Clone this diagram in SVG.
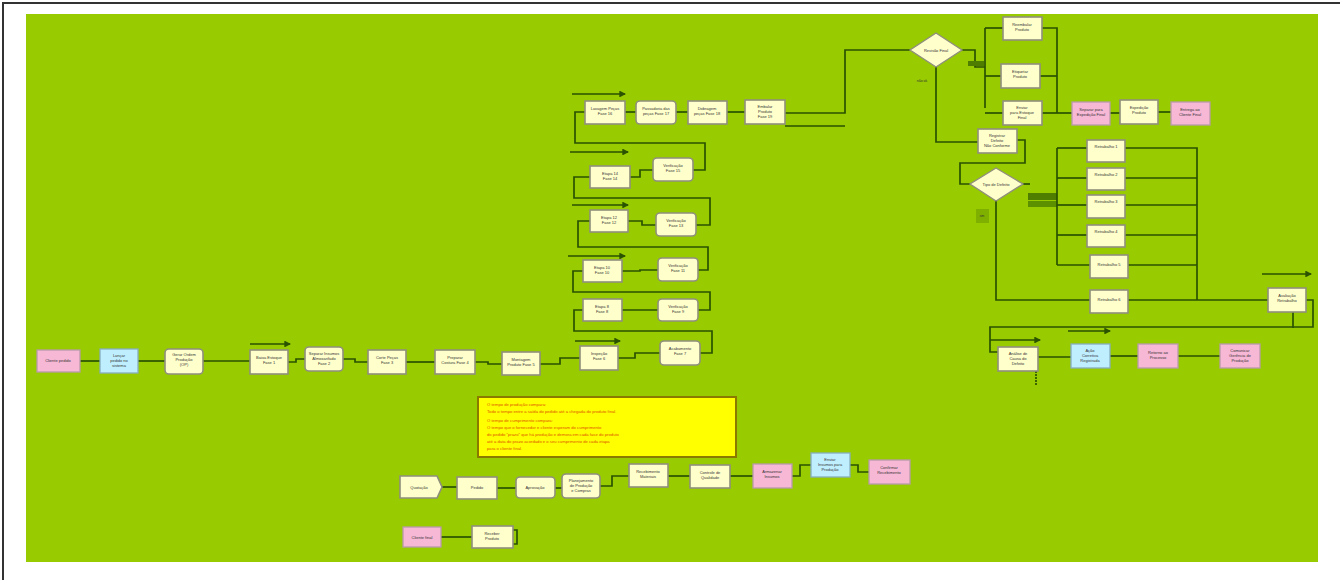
<svg xmlns="http://www.w3.org/2000/svg" width="1343" height="582" viewBox="0 0 1343 582">
<defs>
<style>
.bg{fill:#99cc00}
.n{fill:#ffffcc;stroke:#8f8f7c;stroke-width:1.6}
.p{fill:#f7b8d6;stroke:#b89aa8;stroke-width:1.3}
.b{fill:#bfeeff;stroke:#86aebd;stroke-width:1.3}
.d{fill:#ffffcc;stroke:#8f8f7c;stroke-width:1.4}
.t{font-family:"Liberation Sans",Arial,sans-serif;font-size:4px;fill:#333;text-anchor:middle}
.c path,.c line{fill:none;stroke:#2a5200;stroke-width:1.7}
.note{fill:#ffff00;stroke:#8a7a00;stroke-width:2}
.nt{font-family:"Liberation Sans",Arial,sans-serif;font-size:4.2px;fill:#e05000}
</style>
<marker id="ah" viewBox="0 0 6 6" refX="5" refY="3" markerWidth="4" markerHeight="4" orient="auto"><path d="M0,0L6,3L0,6z" fill="#2a5200"/></marker>
</defs>

<!-- page frame -->
<rect x="0" y="0" width="1343" height="582" fill="#ffffff"/>
<path d="M3,580V3H1340" fill="none" stroke="#333" stroke-width="2"/>
<rect class="bg" x="26" y="14" width="1292" height="548"/>

<!-- connectors -->
<g class="c" id="connectors">
  <!-- bottom-left chain -->
  <path d="M80,361H100"/>
  <path d="M138,361H165"/>
  <path d="M203,361H250"/>
  <path d="M288,362H296V359H305"/>
  <path d="M343,359H355V362H368"/>
  <path d="M406,362H435"/>
  <path d="M475,362H488V364H502"/>
  <path d="M540,364H560V358H580"/>
  <path d="M618,358H635V353H660"/>
  <line x1="250" y1="344" x2="290" y2="344" marker-end="url(#ah)"/>
  <line x1="575" y1="341" x2="620" y2="341" marker-end="url(#ah)"/>
  <!-- snake column -->
  <path d="M700,353H712V331H574V310H583"/>
  <path d="M622,310H640V310H658"/>
  <path d="M698,310H710V292H573V271H583"/>
  <path d="M622,271H640V270H658"/>
  <path d="M698,270H708V247H578V221H590"/>
  <path d="M628,221H642V225H656"/>
  <path d="M696,225H710V198H574V177H590"/>
  <path d="M630,177H640V170H653"/>
  <path d="M693,170H705V143H575V112H585"/>
  <line x1="572" y1="94" x2="625" y2="94" marker-end="url(#ah)"/>
  <line x1="572" y1="205" x2="628" y2="205" marker-end="url(#ah)"/>
  <line x1="568" y1="256" x2="625" y2="256" marker-end="url(#ah)"/>
  <line x1="570" y1="152" x2="628" y2="152" marker-end="url(#ah)"/>
  <path d="M625,112H636"/>
  <path d="M676,112H688"/>
  <path d="M727,112H745"/>
  <path d="M785,113H845V50H910"/>
  <path d="M785,126H845"/>
  <!-- decision 1 -->
  <path d="M962,50H975V67H985"/>
  <rect x="968" y="61" width="16" height="5" fill="#4e7d00" stroke="none"/>
  <path d="M985,28V108"/>
  <path d="M985,28H1003"/>
  <path d="M985,76H1001"/>
  <path d="M985,113H1003"/>
  <path d="M1042,28H1057V113"/>
  <path d="M1040,76H1057"/>
  <path d="M1042,113H1072"/>
  <path d="M1110,113H1120"/>
  <path d="M1158,112H1171"/>
  <path d="M936,67V142H978"/>
  <path d="M1017,140H1025V163H960V184H970"/>
  <!-- decision 2 -->
  <path d="M1023,184H1030"/>
  <rect x="1028" y="193" width="29" height="7" fill="#4e7d00" stroke="none"/>
  <rect x="1028" y="201" width="29" height="6" fill="#5d9000" stroke="none"/>
  <path d="M1057,148V265"/>
  <path d="M1057,148H1087"/>
  <path d="M1057,178H1087"/>
  <path d="M1057,205H1087"/>
  <path d="M1057,235H1087"/>
  <path d="M1057,265H1090"/>
  <path d="M1125,148H1197V300"/>
  <path d="M1125,178H1197"/>
  <path d="M1125,205H1197"/>
  <path d="M1125,235H1197"/>
  <path d="M1128,265H1197"/>
  <path d="M996,201V300H1197"/>
  <path d="M1197,300H1268"/>
  <line x1="1262" y1="274" x2="1311" y2="274" marker-end="url(#ah)"/>
  <path d="M1306,300H1313V327H990V352H998"/>
  <line x1="990" y1="340" x2="1040" y2="340" marker-end="url(#ah)"/>
  <path d="M1038,357H1071"/>
  <line x1="1068" y1="331" x2="1110" y2="331" marker-end="url(#ah)"/>
  <path d="M1110,356H1138"/>
  <path d="M1178,356H1220"/>
  <path d="M1293,312V328" stroke="#7a5a00"/>
  <path d="M1036,371V386" stroke="#7a5a00" stroke-dasharray="2 1"/>
  <!-- lower chain -->
  <path d="M442,487H457"/>
  <path d="M497,488H516"/>
  <path d="M555,488H562"/>
  <path d="M600,486H612V476H629"/>
  <path d="M668,476H690"/>
  <path d="M730,476H753"/>
  <path d="M792,476H800V465H811"/>
  <path d="M850,465H858V472H869"/>
  <path d="M441,537H472"/>
  <path d="M513,530H517V544H513"/>
</g>

<!-- bottom-left chain nodes -->
<g id="n01"><rect class="p" x="37" y="350" width="43" height="22"/><text class="t" x="58" y="362">Cliente pedido</text></g>
<g id="n02"><rect class="b" x="100" y="349" width="38" height="24"/><text class="t" x="119" y="357">Lançar</text><text class="t" x="119" y="362">pedido no</text><text class="t" x="119" y="367">sistema</text></g>
<g id="n03"><rect class="n" x="165" y="349" width="38" height="25" rx="4"/><text class="t" x="184" y="356">Gerar Ordem</text><text class="t" x="184" y="361">Produção</text><text class="t" x="184" y="366">(OP)</text></g>
<g id="n04"><rect class="n" x="250" y="350" width="38" height="24"/><text class="t" x="269" y="359">Baixa Estoque</text><text class="t" x="269" y="364">Fase 1</text></g>
<g id="n05"><rect class="n" x="305" y="347" width="38" height="24" rx="4"/><text class="t" x="324" y="355">Separar Insumos</text><text class="t" x="324" y="360">Almoxarifado</text><text class="t" x="324" y="365">Fase 2</text></g>
<g id="n06"><rect class="n" x="368" y="350" width="38" height="24"/><text class="t" x="387" y="359">Corte Peças</text><text class="t" x="387" y="364">Fase 3</text></g>
<g id="n07"><rect class="n" x="435" y="350" width="40" height="24"/><text class="t" x="455" y="359">Preparar</text><text class="t" x="455" y="364">Costura Fase 4</text></g>
<g id="n08"><rect class="n" x="502" y="352" width="38" height="23"/><text class="t" x="521" y="361">Montagem</text><text class="t" x="521" y="366">Produto Fase 5</text></g>
<g id="n09"><rect class="n" x="580" y="346" width="38" height="24"/><text class="t" x="599" y="355">Inspeção</text><text class="t" x="599" y="360">Fase 6</text></g>
<g id="n10"><rect class="n" x="660" y="341" width="40" height="24" rx="4"/><text class="t" x="680" y="350">Acabamento</text><text class="t" x="680" y="355">Fase 7</text></g>

<!-- snake column nodes -->
<g id="n11"><rect class="n" x="583" y="299" width="39" height="22"/><text class="t" x="602" y="308">Etapa 8</text><text class="t" x="602" y="313">Fase 8</text></g>
<g id="n12"><rect class="n" x="658" y="299" width="40" height="22" rx="4"/><text class="t" x="678" y="308">Verificação</text><text class="t" x="678" y="313">Fase 9</text></g>
<g id="n13"><rect class="n" x="583" y="260" width="39" height="22"/><text class="t" x="602" y="269">Etapa 10</text><text class="t" x="602" y="274">Fase 10</text></g>
<g id="n14"><rect class="n" x="658" y="258" width="40" height="23" rx="4"/><text class="t" x="678" y="267">Verificação</text><text class="t" x="678" y="272">Fase 11</text></g>
<g id="n15"><rect class="n" x="590" y="210" width="38" height="22"/><text class="t" x="609" y="219">Etapa 12</text><text class="t" x="609" y="224">Fase 12</text></g>
<g id="n16"><rect class="n" x="656" y="213" width="40" height="23" rx="4"/><text class="t" x="676" y="222">Verificação</text><text class="t" x="676" y="227">Fase 13</text></g>
<g id="n17"><rect class="n" x="590" y="166" width="40" height="22"/><text class="t" x="610" y="175">Etapa 14</text><text class="t" x="610" y="180">Fase 14</text></g>
<g id="n18"><rect class="n" x="653" y="158" width="40" height="23" rx="4"/><text class="t" x="673" y="167">Verificação</text><text class="t" x="673" y="172">Fase 15</text></g>
<g id="n19"><rect class="n" x="585" y="101" width="40" height="23"/><text class="t" x="605" y="110">Lavagem Peças</text><text class="t" x="605" y="115">Fase 16</text></g>
<g id="n20"><rect class="n" x="636" y="101" width="40" height="23" rx="4"/><text class="t" x="656" y="110">Passadoria das</text><text class="t" x="656" y="115">peças Fase 17</text></g>
<g id="n21"><rect class="n" x="688" y="101" width="39" height="23"/><text class="t" x="707" y="110">Dobragem</text><text class="t" x="707" y="115">peças Fase 18</text></g>
<g id="n22"><rect class="n" x="745" y="100" width="40" height="24"/><text class="t" x="765" y="108">Embalar</text><text class="t" x="765" y="113">Produto</text><text class="t" x="765" y="118">Fase 19</text></g>

<!-- decision 1 and branches -->
<g id="d1"><polygon class="d" points="936,33 962,50 936,67 910,50"/><text class="t" x="936" y="52">Revisão Final</text></g>
<text class="t" x="922" y="82" style="font-size:3.5px">não ok</text>
<g id="n23"><rect class="n" x="1003" y="17" width="39" height="23"/><text class="t" x="1022" y="26">Reembalar</text><text class="t" x="1022" y="31">Produto</text></g>
<g id="n24"><rect class="n" x="1001" y="64" width="39" height="24"/><text class="t" x="1020" y="73">Etiquetar</text><text class="t" x="1020" y="78">Produto</text></g>
<g id="n25"><rect class="n" x="1003" y="101" width="39" height="24"/><text class="t" x="1022" y="109">Enviar</text><text class="t" x="1022" y="114">para Estoque</text><text class="t" x="1022" y="119">Final</text></g>
<g id="n26"><rect class="p" x="1072" y="102" width="38" height="23"/><text class="t" x="1091" y="111">Separar para</text><text class="t" x="1091" y="116">Expedição Final</text></g>
<g id="n27"><rect class="n" x="1120" y="100" width="38" height="24"/><text class="t" x="1139" y="109">Expedição</text><text class="t" x="1139" y="114">Produto</text></g>
<g id="n28"><rect class="p" x="1171" y="102" width="39" height="23"/><text class="t" x="1190" y="111">Entrega ao</text><text class="t" x="1190" y="116">Cliente Final</text></g>
<g id="n29"><rect class="n" x="978" y="129" width="39" height="24"/><text class="t" x="997" y="137">Registrar</text><text class="t" x="997" y="142">Defeito</text><text class="t" x="997" y="147">Não Conforme</text></g>

<!-- decision 2 and rework nodes -->
<g id="d2"><polygon class="d" points="996,168 1023,184 996,201 970,184"/><text class="t" x="996" y="186">Tipo de Defeito</text></g>
<rect x="976" y="209" width="13" height="14" fill="#7fb000" stroke="none"/>
<text class="t" x="982" y="217" style="font-size:3px">sim</text>
<g id="n30"><rect class="n" x="1087" y="140" width="38" height="22"/><text class="t" x="1106" y="148">Retrabalho 1</text></g>
<g id="n31"><rect class="n" x="1087" y="168" width="38" height="22"/><text class="t" x="1106" y="176">Retrabalho 2</text></g>
<g id="n32"><rect class="n" x="1087" y="195" width="38" height="23"/><text class="t" x="1106" y="203">Retrabalho 3</text></g>
<g id="n33"><rect class="n" x="1087" y="225" width="38" height="22"/><text class="t" x="1106" y="233">Retrabalho 4</text></g>
<g id="n34"><rect class="n" x="1090" y="255" width="38" height="23"/><text class="t" x="1109" y="266">Retrabalho 5</text></g>
<g id="n35"><rect class="n" x="1090" y="290" width="38" height="23"/><text class="t" x="1109" y="301">Retrabalho 6</text></g>
<g id="n36"><rect class="n" x="1268" y="288" width="38" height="24"/><text class="t" x="1287" y="297">Avaliação</text><text class="t" x="1287" y="302">Retrabalho</text></g>

<!-- bottom-right chain -->
<g id="n37"><rect class="n" x="998" y="347" width="40" height="24"/><text class="t" x="1018" y="355">Análise de</text><text class="t" x="1018" y="360">Causa do</text><text class="t" x="1018" y="365">Defeito</text></g>
<g id="n38"><rect class="b" x="1071" y="344" width="39" height="24"/><text class="t" x="1090" y="352">Ação</text><text class="t" x="1090" y="357">Corretiva</text><text class="t" x="1090" y="362">Registrada</text></g>
<g id="n39"><rect class="p" x="1138" y="344" width="40" height="24"/><text class="t" x="1158" y="354">Retorno ao</text><text class="t" x="1158" y="359">Processo</text></g>
<g id="n40"><rect class="p" x="1220" y="344" width="40" height="24"/><text class="t" x="1240" y="352">Comunicar</text><text class="t" x="1240" y="357">Gerência de</text><text class="t" x="1240" y="362">Produção</text></g>

<!-- note -->
<g id="note">
  <rect class="note" x="478" y="397" width="258" height="60"/>
  <text class="nt" x="487" y="406">O tempo de produção compara:</text>
  <text class="nt" x="487" y="413">Todo o tempo entre a saída do pedido até a chegada do produto final.</text>
  <text class="nt" x="487" y="422">O tempo de cumprimento compara:</text>
  <text class="nt" x="487" y="429">O tempo que o fornecedor e cliente esperam do cumprimento</text>
  <text class="nt" x="487" y="436">do pedido "prazo" que há produção e demora em cada fase do produto</text>
  <text class="nt" x="487" y="443">até a data do prazo acordado e o seu cumprimento de cada etapa</text>
  <text class="nt" x="487" y="450">para o cliente final.</text>
</g>

<!-- lower chain -->
<g id="n41"><path class="n" d="M400,476H437L442,487L437,498H400Z"/><text class="t" x="419" y="489">Quotação</text></g>
<g id="n42"><rect class="n" x="457" y="477" width="40" height="22"/><text class="t" x="477" y="489">Pedido</text></g>
<g id="n43"><rect class="n" x="516" y="477" width="39" height="21" rx="4"/><text class="t" x="535" y="489">Aprovação</text></g>
<g id="n44"><rect class="n" x="562" y="474" width="38" height="24" rx="4"/><text class="t" x="581" y="482">Planejamento</text><text class="t" x="581" y="487">de Produção</text><text class="t" x="581" y="492">e Compras</text></g>
<g id="n45"><rect class="n" x="629" y="464" width="39" height="23"/><text class="t" x="648" y="473">Recebimento</text><text class="t" x="648" y="478">Materiais</text></g>
<g id="n46"><rect class="n" x="690" y="465" width="40" height="23"/><text class="t" x="710" y="474">Controle de</text><text class="t" x="710" y="479">Qualidade</text></g>
<g id="n47"><rect class="p" x="753" y="464" width="39" height="24"/><text class="t" x="772" y="473">Armazenar</text><text class="t" x="772" y="478">Insumos</text></g>
<g id="n48"><rect class="b" x="811" y="453" width="39" height="24"/><text class="t" x="830" y="461">Enviar</text><text class="t" x="830" y="466">Insumos para</text><text class="t" x="830" y="471">Produção</text></g>
<g id="n49"><rect class="p" x="869" y="460" width="41" height="24"/><text class="t" x="889" y="469">Confirmar</text><text class="t" x="889" y="474">Recebimento</text></g>

<g id="n50"><rect class="p" x="403" y="527" width="38" height="20"/><text class="t" x="422" y="539">Cliente final</text></g>
<g id="n51"><rect class="n" x="472" y="526" width="41" height="22"/><text class="t" x="492" y="535">Receber</text><text class="t" x="492" y="540">Produto</text></g>
</svg>
